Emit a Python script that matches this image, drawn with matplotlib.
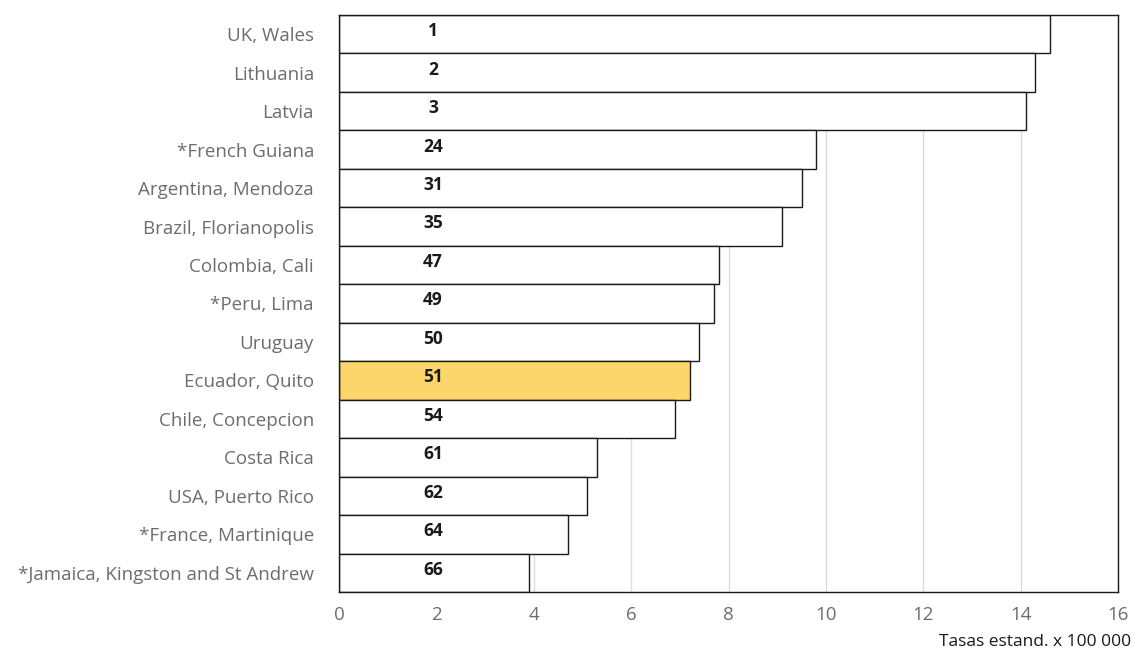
import numpy as np
import matplotlib
matplotlib.use('Agg')
from matplotlib import pyplot as plt

plt.rcParams['font.family'] = ['Open Sans', 'DejaVu Sans']

countries = ["UK, Wales", "Lithuania", "Latvia", "*French Guiana", "Argentina, Mendoza",
             "Brazil, Florianopolis", "Colombia, Cali", "*Peru, Lima", "Uruguay",
             "Ecuador, Quito", "Chile, Concepcion", "Costa Rica", "USA, Puerto Rico",
             "*France, Martinique", "*Jamaica, Kingston and St Andrew"]
rates = [14.6, 14.3, 14.1, 9.8, 9.5, 9.1, 7.8, 7.7, 7.4, 7.2, 6.9, 5.3, 5.1, 4.7, 3.9]
ranks = ["1", "2", "3", "24", "31", "35", "47", "49", "50", "51", "54", "61", "62", "64", "66"]
highlight = "Ecuador, Quito"

fig = plt.figure(figsize=(11.33, 6.51), dpi=100)
ax = fig.add_axes([0.2992, 0.0906, 0.6876, 0.8864])

y = np.arange(len(countries))
colors = ['#fcd66b' if c == highlight else 'white' for c in countries]
ax.barh(y, rates, height=1.0, color=colors, edgecolor='#1a1a1a', linewidth=1.0, zorder=2)

for i in range(len(countries)):
    ax.text(1.93, y[i] - 0.08, ranks[i], ha='center', va='center', fontsize=12.5,
            fontweight='bold', color='#1a1a1a', zorder=3)

ax.set_xlim(0, 16)
ax.set_ylim(len(countries) - 0.5, -0.5)
ax.set_xticks(range(0, 17, 2))
ax.set_yticks(y)
ax.set_yticklabels(countries)
ax.tick_params(axis='both', length=0, labelsize=13.5, colors='#6d6d6d')
ax.tick_params(axis='y', pad=18)
ax.tick_params(axis='x', pad=10)
ax.grid(axis='x', color='#dcdcdc', linewidth=1.0, zorder=0)
ax.set_axisbelow(True)
for s in ax.spines.values():
    s.set_color('#1a1a1a')
    s.set_linewidth(1.0)

fig.text(0.998, 0.002, "Tasas estand. x 100 000", ha='right', va='bottom', fontsize=12.5,
         color='#1a1a1a')

fig.savefig('out.png', dpi=100)
